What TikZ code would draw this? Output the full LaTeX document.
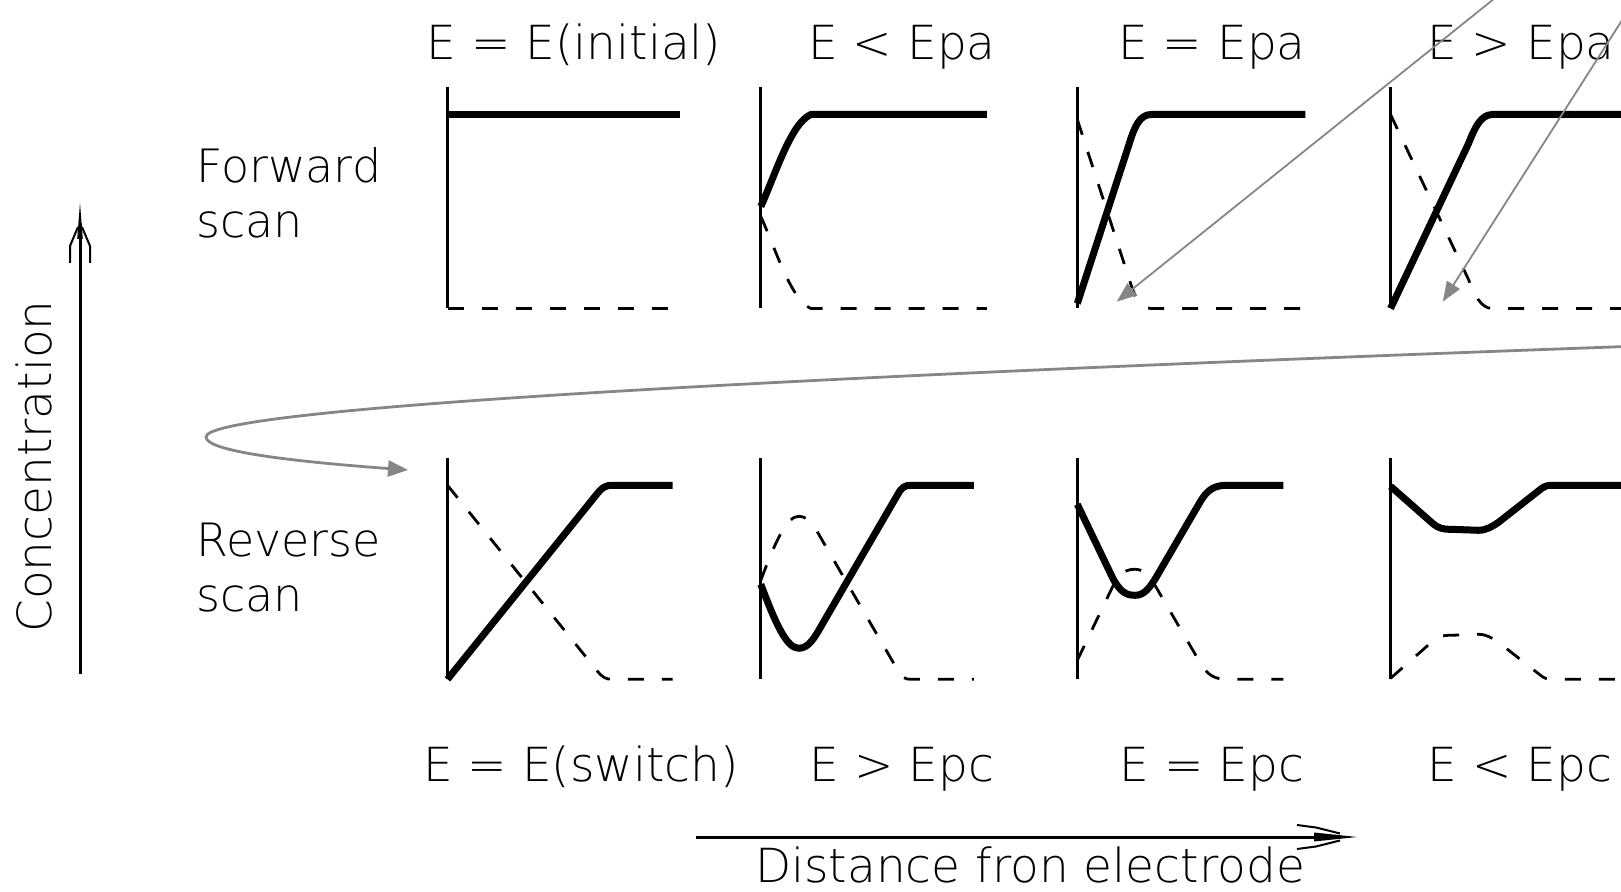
\documentclass[tikz,border=0pt]{standalone}
\usepackage{fontspec}
\setmainfont{DejaVuSans-ExtraLight.ttf}
\usetikzlibrary{arrows.meta}
\tikzset{
  axisline/.style={line width=3pt, black},
  solidc/.style={line width=7pt, black, line join=round},
  dashc/.style={line width=2.8pt, black, dash pattern=on 16pt off 18pt},
  grayarrow/.style={draw=gray!95, line width=1.8pt, -{Triangle[length=20pt,width=15pt]}, gray!95},
  graycurve/.style={draw=gray!95, line width=2.8pt, -{Triangle[length=20pt,width=16pt]}, gray!95},
  lbl/.style={inner sep=0pt, anchor=base, font=\fontsize{47}{55}\selectfont},
  lblw/.style={inner sep=0pt, anchor=base west, font=\fontsize{46}{55}\selectfont},
}
\newcommand\mypanel[3]{%
  \begin{scope}[shift={(#1,#2)}]
    \draw[axisline] (0,0) -- (0,221);
    \draw[solidc] #3;
    \begin{scope}[shift={(0,194)},yscale=-1]
      \draw[dashc] #3;
    \end{scope}
  \end{scope}}
\begin{document}
\begin{tikzpicture}[x=1pt,y=1pt]
\fill[white] (0,0) rectangle (1621,891);
\clip (0,0) rectangle (1621,891);

% top row panels
\mypanel{447.5}{582.5}{(0,194) -- (232,194)}
\mypanel{760.8}{582.5}{(0,102) .. controls (15,135) and (30,185) .. (50,194) -- (226,194)}
\mypanel{1077.3}{582.5}{(0,5) -- (52,165) .. controls (57,181) and (62,194) .. (74,194) -- (228,194)}
\mypanel{1390.5}{582.5}{(0,0) -- (78,165) .. controls (84,180) and (90,194) .. (102,194) -- (240,194)}

% bottom row panels
\mypanel{447.5}{211.7}{(0,0) -- (150,186) .. controls (155,192) and (158,194) .. (165,194) -- (225,194)}
\mypanel{760.8}{211.7}{(0,95) .. controls (15,55) and (26,31) .. (38,31) .. controls (48,31) and (54,42) .. (62,56) -- (137,185) .. controls (141,192) and (144,194) .. (150,194) -- (213,194)}
\mypanel{1077.3}{211.7}{(0,175) -- (36,100) .. controls (44,86) and (50,84) .. (58,84) .. controls (66,84) and (72,90) .. (80,104) -- (122,176) .. controls (130,190) and (137,194) .. (150,194) -- (206,194)}
\mypanel{1390.5}{211.7}{(0,193) -- (42,156) .. controls (48,151) and (52,150) .. (60,150) -- (88,149) .. controls (96,149) and (102,153) .. (108,157) -- (150,190) .. controls (154,193) and (156,194) .. (162,194) -- (240,194)}

% labels
\node[lbl] (t1) at (574,831) {E = E(initial)};
\node[lbl] (t2) at (902,831) {E < Epa};
\node[lbl] (t3) at (1212,831) {E = Epa};
\node[lbl] (t4) at (1521,831) {E > Epa};
\node[lbl] (b1) at (581,109) {E = E(switch)};
\node[lbl] (b2) at (902,109) {E > Epc};
\node[lbl] (b3) at (1212,109) {E = Epc};
\node[lbl] (b4) at (1520,109) {E < Epc};
\node[lblw] (fw) at (196,708) {Forward};
\node[lblw] (fs) at (196,653) {scan};
\node[lblw] (rv) at (196,334) {Reverse};
\node[lblw] (rs) at (196,279) {scan};
\node[lbl, rotate=90] (conc) at (51.7,424.5) {Concentration};
\node[lbl] (dist) at (1030,9) {Distance fron electrode};

% concentration axis
\coordinate (cb) at (80,217);
\coordinate (ct) at (80,688);
\draw[line width=3pt] (cb) -- ([yshift=-20pt]ct);
\fill (ct) -- (82.8,652) -- (77.2,652) -- cycle;
\draw[line width=2pt] (70,628) -- (70,645) -- (78,664);
\draw[line width=2pt] (90,628) -- (90,645) -- (82,664);

% distance axis
\coordinate (db) at (696,54);
\coordinate (dt) at (1357,54);
\draw[line width=3pt] (db) -- ([xshift=-20pt]dt);
\fill (dt) -- (1314,58.5) -- (1314,49.5) -- cycle;
\draw[line width=2pt] (1297,66) -- (1316,63.5) -- (1340,57.5);
\draw[line width=2pt] (1297,42) -- (1316,44.5) -- (1340,50.5);

% gray arrows
\coordinate (a1s) at (1510,905);
\coordinate (a1e) at (1116.7,589.3);
\coordinate (a2s) at (1640,899);
\coordinate (a2e) at (1442.7,589.3);
\coordinate (a3s) at (1640,545);
\coordinate (a3m) at (206,454);
\coordinate (a3e) at (408,421);
\draw[grayarrow] (a1s) -- (a1e);
\draw[grayarrow] (a2s) -- (a2e);
\draw[graycurve] (a3s) .. controls (700,511) and (206,481) .. (a3m) .. controls (206,439) and (300,429) .. (a3e);
\end{tikzpicture}
\end{document}
